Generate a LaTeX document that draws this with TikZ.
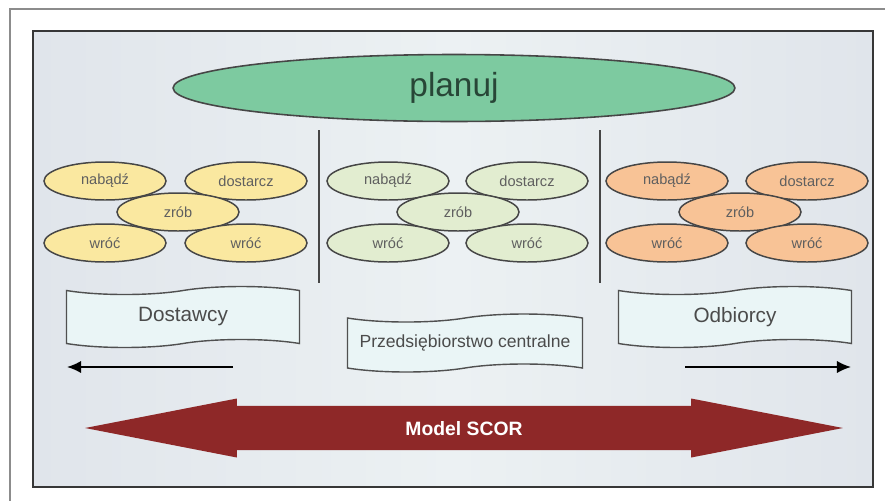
\documentclass[tikz,border=0pt]{standalone}
\usepackage{fontspec}
\setmainfont{Liberation Sans}
\usetikzlibrary{shapes.geometric}
\usetikzlibrary{shapes.symbols}
\usetikzlibrary{shapes.arrows}
\usetikzlibrary{arrows.meta}

\begin{document}
\begin{tikzpicture}[x=0.02cm,y=-0.02cm,
	proc/.style={ellipse,draw=procline,line width=0.85pt,minimum width=2.44cm,
		minimum height=0.76cm,inner sep=0pt,font=\fontsize{8.3}{10}\selectfont,text=proctext},
	banner/.style={tape,draw=bannerline,fill=bannerfill,line width=0.8pt,
		minimum width=4.66cm,minimum height=1.22cm,tape bend height=0.16cm,text=bannertext},
	flow/.style={-{Latex[length=8pt,width=7pt]},line width=1pt}]
	
	\definecolor{framegray}{RGB}{140,140,140}
	\definecolor{paneledge}{RGB}{55,55,55}
	\definecolor{panelside}{RGB}{224,229,235}
	\definecolor{panelmid}{RGB}{236,241,243}
	\definecolor{procline}{RGB}{70,70,70}
	\definecolor{proctext}{RGB}{95,95,95}
	\definecolor{plangreen}{RGB}{125,202,160}
	\definecolor{plantext}{RGB}{40,70,55}
	\definecolor{supyellow}{RGB}{250,232,160}
	\definecolor{entgreen}{RGB}{226,237,208}
	\definecolor{custorange}{RGB}{248,195,150}
	\definecolor{bannerline}{RGB}{80,80,80}
	\definecolor{bannerfill}{RGB}{234,245,246}
	\definecolor{bannertext}{RGB}{75,75,75}
	\definecolor{scorred}{RGB}{142,40,40}
	
	\useasboundingbox (0,0) rectangle (885,501);
	
	% frame and panel
	\draw[framegray, line width=1pt] (885,9) -- (10,9) -- (10,501);
	\draw[paneledge, line width=1.3pt, left color=panelside, right color=panelside,
		middle color=panelmid] (33,31) rectangle (873,487);
	
	\node[ellipse, draw=procline, line width=0.9pt, fill=plangreen, minimum width=11.24cm,
		minimum height=1.34cm, font=\fontsize{19}{22}\selectfont, text=plantext] (plan) at (454,88) {planuj};
	
	\draw[procline, line width=0.8pt] (319,130) -- (319,283);
	\draw[procline, line width=0.8pt] (600,130) -- (600,283);
	
	% suppliers
	\node[proc, fill=supyellow] (nabS) at (105,181) {nabądź};
	\node[proc, fill=supyellow] (dosS) at (246,181) {dostarcz};
	\node[proc, fill=supyellow] (zrobS) at (178,212) {zrób};
	\node[proc, fill=supyellow] (wrocSa) at (105,243) {wróć};
	\node[proc, fill=supyellow] (wrocSb) at (246,243) {wróć};
	
	% enterprise
	\node[proc, fill=entgreen] (nabE) at (388,181) {nabądź};
	\node[proc, fill=entgreen] (dosE) at (527,181) {dostarcz};
	\node[proc, fill=entgreen] (zrobE) at (458,212) {zrób};
	\node[proc, fill=entgreen] (wrocEa) at (388,243) {wróć};
	\node[proc, fill=entgreen] (wrocEb) at (527,243) {wróć};
	
	% customers
	\node[proc, fill=custorange] (nabC) at (667,181) {nabądź};
	\node[proc, fill=custorange] (dosC) at (807,181) {dostarcz};
	\node[proc, fill=custorange] (zrobC) at (740,212) {zrób};
	\node[proc, fill=custorange] (wrocCa) at (667,243) {wróć};
	\node[proc, fill=custorange] (wrocCb) at (807,243) {wróć};
	
	\node[banner, font=\fontsize{11.8}{14}\selectfont] (sup) at (183,317) {Dostawcy};
	\node[banner, font=\fontsize{10}{12}\selectfont, minimum width=4.7cm, minimum height=1.16cm] (ent) at (465,343) {Przedsiębiorstwo centralne};
	\node[banner, font=\fontsize{11.8}{14}\selectfont] (cust) at (735,317) {Odbiorcy};
	
	\coordinate (supFrom) at (233,367);
	\coordinate (supTo) at (67,367);
	\coordinate (custFrom) at (685,367);
	\coordinate (custTo) at (851,367);
	\draw[flow] (supFrom) -- (supTo);
	\draw[flow] (custFrom) -- (custTo);
	
	\node[double arrow, fill=scorred, minimum height=15.16cm, minimum width=1.18cm,
		double arrow head extend=0.1cm, double arrow tip angle=22, text height=8pt,
		text depth=0pt, inner xsep=0pt, inner ysep=4.3pt,
		font=\bfseries\fontsize{11}{13}\selectfont, text=white] (scor) at (464,428) {Model SCOR};
\end{tikzpicture}
\end{document}
